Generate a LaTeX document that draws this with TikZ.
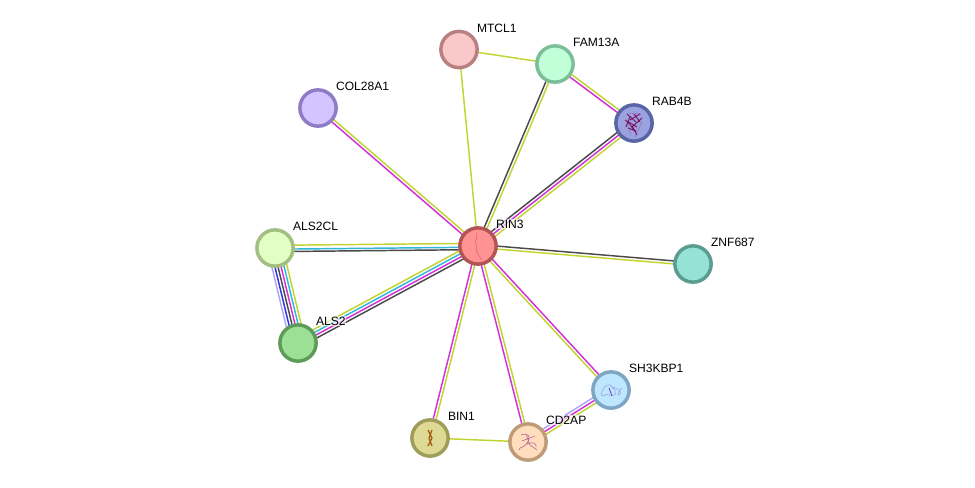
\documentclass[tikz,border=0pt]{standalone}
\usepackage{fontspec}
\setmainfont{Liberation Sans}
\usetikzlibrary{calc}
\pgfdeclarelayer{paper}
\pgfdeclarelayer{edges}
\pgfsetlayers{paper,edges,main}
\definecolor{eg}{HTML}{C2D42F}
\definecolor{em}{HTML}{D42FD8}
\definecolor{ek}{HTML}{4A4A4A}
\definecolor{ec}{HTML}{2FB8D8}
\definecolor{eb}{HTML}{3030E8}
\definecolor{el}{HTML}{A8A8F4}
\tikzset{
  x=0.75pt,y=-0.75pt,
  prot/.style={circle,minimum size=27.2pt,inner sep=0pt,line width=2.6pt},
  lab/.style={anchor=west,font=\fontsize{9.05pt}{10pt}\selectfont,text=black,fill=white,fill opacity=.65,text opacity=1,inner sep=.6pt},
  ln/.style={line width=1.1pt},
  fine/.style={line width=.3pt},
}
% \ee{a}{b}{colour}{offset in px, to the left of the direction a to b}
\newcommand{\ee}[4]{\draw[ln,#3] ($(#1)!#4*0.75pt!90:(#2)$) -- ($(#2)!#4*0.75pt!-90:(#1)$);}
\begin{document}
\begin{tikzpicture}
\useasboundingbox (0,0) rectangle (975,487);
\begin{pgfonlayer}{paper}
\fill[white] (0,0) rectangle (975,487);
\end{pgfonlayer}
% nodes
\node[prot,draw={rgb,255:red,184;green,128;blue,128},fill={rgb,255:red,250;green,200;blue,200}] (mtcl) at (459,49.5) {};
\node[prot,draw={rgb,255:red,124;green,190;blue,152},fill={rgb,255:red,192;green,255;blue,216}] (fam) at (555,64) {};
\node[prot,draw={rgb,255:red,88;green,100;blue,166},fill={rgb,255:red,154;green,162;blue,224}] (rab) at (634,123) {};
\node[prot,draw={rgb,255:red,144;green,124;blue,196},fill={rgb,255:red,212;green,196;blue,255}] (col) at (318,108) {};
\node[prot,draw={rgb,255:red,178;green,84;blue,84},fill={rgb,255:red,255;green,146;blue,146}] (rin) at (478,246) {};
\node[prot,draw={rgb,255:red,164;green,190;blue,130},fill={rgb,255:red,226;green,255;blue,196}] (alc) at (275,248) {};
\node[prot,draw={rgb,255:red,92;green,156;blue,88},fill={rgb,255:red,156;green,224;blue,150}] (als) at (298,343) {};
\node[prot,draw={rgb,255:red,88;green,156;blue,146},fill={rgb,255:red,150;green,226;blue,214}] (znf) at (693,264) {};
\node[prot,draw={rgb,255:red,124;green,166;blue,194},fill={rgb,255:red,190;green,230;blue,255}] (sh) at (611,390) {};
\node[prot,draw={rgb,255:red,190;green,156;blue,120},fill={rgb,255:red,255;green,222;blue,190}] (cd) at (528,442) {};
\node[prot,draw={rgb,255:red,160;green,156;blue,90},fill={rgb,255:red,222;green,218;blue,150}] (bin) at (430,438) {};
% edges
\begin{pgfonlayer}{edges}
\ee{mtcl}{rin}{eg}{0}
\ee{mtcl}{fam}{eg}{0}
\ee{fam}{rin}{ek}{-1.5}
\ee{fam}{rin}{eg}{1.5}
\ee{fam}{rab}{eg}{1.5}
\ee{fam}{rab}{em}{-1.5}
\ee{rab}{rin}{ek}{-3}
\ee{rab}{rin}{em}{0}
\ee{rab}{rin}{eg}{3}
\ee{col}{rin}{eg}{1.5}
\ee{col}{rin}{em}{-1.5}
\ee{rin}{znf}{ek}{1.5}
\ee{rin}{znf}{eg}{-1.5}
\ee{alc}{rin}{eg}{2.7}
\ee{alc}{rin}{ec}{-1.2}
\ee{alc}{rin}{ek}{-3.6}
\ee{alc}{als}{el}{-7.5}
\ee{alc}{als}{eb}{-4.5}
\ee{alc}{als}{ek}{-1.5}
\ee{alc}{als}{em}{1.5}
\ee{alc}{als}{ec}{4.5}
\ee{alc}{als}{eg}{7.5}
\ee{als}{rin}{eg}{4.5}
\ee{als}{rin}{ec}{1.5}
\ee{als}{rin}{em}{-1.5}
\ee{als}{rin}{ek}{-4.5}
\ee{bin}{rin}{em}{1.5}
\ee{bin}{rin}{eg}{-1.5}
\ee{bin}{cd}{eg}{0}
\ee{cd}{rin}{em}{1.5}
\ee{cd}{rin}{eg}{-1.5}
\ee{sh}{rin}{em}{-1.5}
\ee{sh}{rin}{eg}{1.5}
\ee{sh}{cd}{el}{-3}
\ee{sh}{cd}{em}{0}
\ee{sh}{cd}{eg}{3}
\end{pgfonlayer}
% structures
\draw[fine,draw={rgb,255:red,200;green,90;blue,100}] (476,233) .. controls (479,238) and (474,240) .. (476,244) .. controls (479,248) and (474,250) .. (478,254) .. controls (480,256) and (479,258) .. (482,260);
\begin{scope}[draw={rgb,255:red,120;green,0;blue,80},line width=.8pt,opacity=.8]
\foreach \a/\b/\c/\d in {627/114/636/122, 640/114/630/120, 625/120/637/127, 634/114/640/122, 628/128/636/131, 632/126/637/135, 642/118/632/127, 630/117/626/127, 628/122/634/130}
  \draw (\a,\b) -- (\c,\d);
\end{scope}
\begin{scope}[draw={rgb,255:red,140;green,60;blue,140},line width=.3pt,opacity=.6]
\draw (628,113) -- (642,114) (626,120) -- (631,135) (642,122) -- (635,137);
\end{scope}
\draw[fine,opacity=.8,draw={rgb,255:red,130;green,130;blue,210}] (601,395) .. controls (603,385) and (610,382) .. (612,387) .. controls (618,392) and (616,398) .. (609,395) .. controls (604,392) and (606,398) .. (601,395) (612,387) .. controls (618,388) and (622,392) .. (620,394) .. controls (618,397) and (616,394) .. (622,388);
\draw[line width=.7pt,draw={rgb,255:red,110;green,80;blue,210}] (609,388) -- (612,396);
\draw[line width=.45pt,draw={rgb,255:red,190;green,100;blue,150}] (521,435) .. controls (528,432) and (532,437) .. (527,443) .. controls (523,449) and (520,446) .. (519,450) (526,434) -- (530,445) -- (537,450) (522,441) -- (535,436) (527,444) .. controls (533,441) and (537,444) .. (536,447);
\draw[line width=.9pt,draw={rgb,255:red,160;green,90;blue,10}] (428,430) -- (432,438) -- (428,446) (432,430) -- (429,438) -- (432,446);
% labels
\node[lab] at (476,28) {MTCL1};
\node[lab] at (572,42) {FAM13A};
\node[lab] at (651,101) {RAB4B};
\node[lab] at (335,86) {COL28A1};
\node[lab] at (495,224) {RIN3};
\node[lab] at (292,226) {ALS2CL};
\node[lab] at (315,321) {ALS2};
\node[lab] at (710,242) {ZNF687};
\node[lab] at (628,368) {SH3KBP1};
\node[lab] at (545,420) {CD2AP};
\node[lab] at (447,416) {BIN1};
\end{tikzpicture}
\end{document}
